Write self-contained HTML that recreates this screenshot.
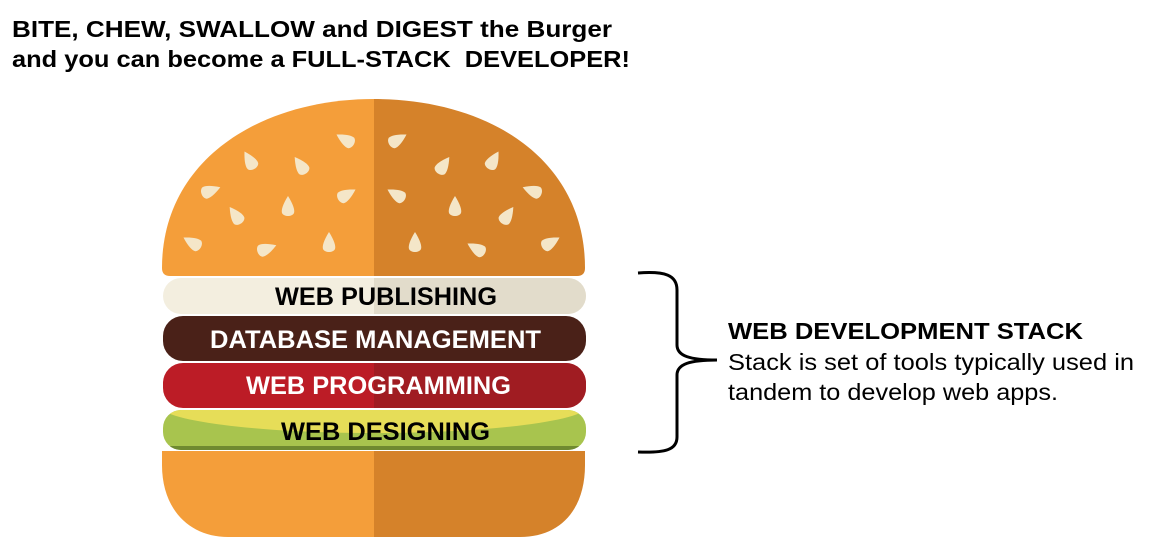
<!DOCTYPE html>
<html><head><meta charset="utf-8"><style>
html,body{margin:0;padding:0;background:#fff;width:1157px;height:537px;overflow:hidden}
svg{display:block}
</style></head><body>
<svg width="1157" height="537" viewBox="0 0 1157 537" xmlns="http://www.w3.org/2000/svg" font-family="'Liberation Sans', Arial, sans-serif">
<defs>
<clipPath id="L"><rect x="0" y="0" width="374" height="537"/></clipPath>
<clipPath id="R"><rect x="374" y="0" width="800" height="537"/></clipPath>
<clipPath id="D"><rect x="163" y="410" width="423" height="40" rx="18"/></clipPath>
<g id="seed"><path d="M0,-11 C5,-3 7,3 6,6 C4,10 -4,10 -6,6 C-7,3 -5,-3 0,-11Z" fill="#f4e6c8"/></g>
</defs>
<text x="12" y="37" font-size="23" font-weight="bold" fill="#000" textLength="600" lengthAdjust="spacingAndGlyphs">BITE, CHEW, SWALLOW and DIGEST the Burger</text>
<text x="12" y="67" font-size="23" font-weight="bold" fill="#000" textLength="618" lengthAdjust="spacingAndGlyphs" xml:space="preserve">and you can become a FULL-STACK  DEVELOPER!</text>

<g clip-path="url(#L)"><path d="M162,268 C162,160 260,99 374,99 C490,99 585,160 585,268 Q585,276 577,276 L170,276 Q162,276 162,268Z" fill="#f49e3a"/></g>
<g clip-path="url(#R)"><path d="M162,268 C162,160 260,99 374,99 C490,99 585,160 585,268 Q585,276 577,276 L170,276 Q162,276 162,268Z" fill="#d5822a"/></g>
<g>
<use href="#seed" transform="translate(346,140) rotate(-60)"/>
<use href="#seed" transform="translate(250,161) rotate(-30)"/>
<use href="#seed" transform="translate(301,166) rotate(-35)"/>
<use href="#seed" transform="translate(210,191) rotate(70)"/>
<use href="#seed" transform="translate(346,195) rotate(60)"/>
<use href="#seed" transform="translate(288,207)"/>
<use href="#seed" transform="translate(236,216) rotate(-35)"/>
<use href="#seed" transform="translate(193,243) rotate(-60)"/>
<use href="#seed" transform="translate(266,249) rotate(70)"/>
<use href="#seed" transform="translate(329,243)"/>
<use href="#seed" transform="translate(397,140) rotate(60)"/>
<use href="#seed" transform="translate(443,166) rotate(35)"/>
<use href="#seed" transform="translate(493,161) rotate(30)"/>
<use href="#seed" transform="translate(397,195) rotate(-60)"/>
<use href="#seed" transform="translate(455,207)"/>
<use href="#seed" transform="translate(533,191) rotate(-70)"/>
<use href="#seed" transform="translate(507,216) rotate(35)"/>
<use href="#seed" transform="translate(415,243)"/>
<use href="#seed" transform="translate(477,249) rotate(-60)"/>
<use href="#seed" transform="translate(550,243) rotate(60)"/>
</g>

<rect x="163" y="278" width="423" height="36" rx="18" fill="#f3eedf"/>
<rect x="163" y="278" width="423" height="36" rx="18" fill="#e2dccb" clip-path="url(#R)"/>
<rect x="163" y="316" width="423" height="45" rx="20" fill="#4a2118"/>
<rect x="163" y="363" width="423" height="45" rx="20" fill="#bc1c26"/>
<rect x="163" y="363" width="423" height="45" rx="20" fill="#a01c22" clip-path="url(#R)"/>
<rect x="163" y="410" width="423" height="40" rx="18" fill="#a8c44e"/>
<g clip-path="url(#D)">
<ellipse cx="374" cy="405" rx="215" ry="28" fill="#e6dd58"/>
<rect x="163" y="446" width="423" height="4" fill="#6f8a30"/>
</g>

<text x="275" y="305" font-size="25" font-weight="bold" fill="#000" textLength="222" lengthAdjust="spacingAndGlyphs">WEB PUBLISHING</text>
<text x="210" y="348" font-size="25" font-weight="bold" fill="#fff" textLength="331" lengthAdjust="spacingAndGlyphs">DATABASE MANAGEMENT</text>
<text x="246" y="394" font-size="25" font-weight="bold" fill="#fff" textLength="265" lengthAdjust="spacingAndGlyphs">WEB PROGRAMMING</text>
<text x="281" y="440" font-size="25" font-weight="bold" fill="#000" textLength="209" lengthAdjust="spacingAndGlyphs">WEB DESIGNING</text>

<g clip-path="url(#L)"><path d="M162,451 L585,451 L585,465 C585,510 560,537 520,537 L228,537 C190,537 162,510 162,465Z" fill="#f49e3a"/></g>
<g clip-path="url(#R)"><path d="M162,451 L585,451 L585,465 C585,510 560,537 520,537 L228,537 C190,537 162,510 162,465Z" fill="#d5822a"/></g>

<path d="M638,273 C665,271 677,275 677,290 L677,345 C677,356 690,360 717,360 C690,360 677,364 677,375 L677,437 C677,450 665,453 638,452" fill="none" stroke="#000" stroke-width="3"/>

<text x="728" y="339" font-size="23" font-weight="bold" fill="#000" textLength="355" lengthAdjust="spacingAndGlyphs">WEB DEVELOPMENT STACK</text>
<text x="728" y="370" font-size="23" fill="#000" textLength="406" lengthAdjust="spacingAndGlyphs">Stack is set of tools typically used in</text>
<text x="728" y="400" font-size="23" fill="#000" textLength="330" lengthAdjust="spacingAndGlyphs">tandem to develop web apps.</text>
</svg>
</body></html>
